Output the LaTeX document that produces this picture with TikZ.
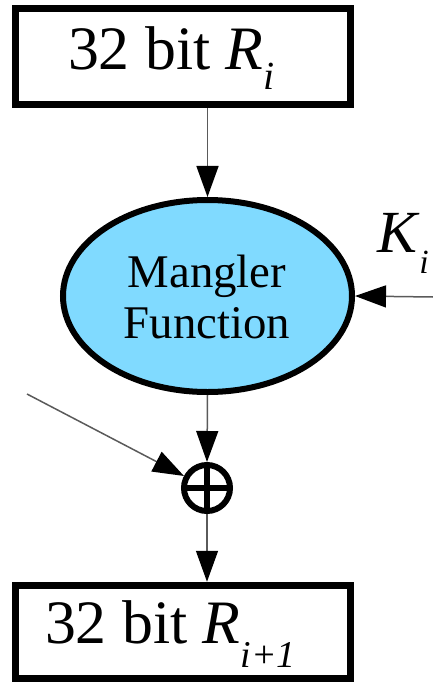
\documentclass[tikz,border=0pt]{standalone}
\usepackage{fontspec}
\setmainfont{Liberation Serif}
\usetikzlibrary{arrows.meta,shapes.geometric}
\definecolor{mangblue}{RGB}{128,218,255}
\definecolor{linegray}{RGB}{90,90,90}
\begin{document}
\begin{tikzpicture}[x=1bp,y=-1bp,
  regbox/.style={draw=black,rectangle,line width=7bp,minimum width=335bp,inner sep=0pt},
  txt/.style={inner sep=0pt,outer sep=0pt},
  flow/.style={draw=linegray,line width=1.5bp,-{Triangle[length=31bp,width=22bp,fill=black,color=black]}}]
\useasboundingbox (0,0) rectangle (433,682);
% boxes
\node[regbox,minimum height=96bp] (top) at (183,56.5) {};
\node[regbox,minimum height=93.5bp] (bot) at (183,632) {};
\node[txt,anchor=base west] (toptxt) at (68,70) {\fontsize{62}{62}\selectfont 32 bit \textit{R}\raisebox{-20bp}{\fontsize{40}{40}\selectfont\textit{i}}};
\node[txt,anchor=base west] (bottxt) at (45,643) {\fontsize{62}{62}\selectfont 32 bit \textit{R}\raisebox{-24bp}{\fontsize{38}{38}\selectfont\textit{i+1}}};
% mangler
\node[ellipse,draw=black,fill=mangblue,line width=6bp,minimum width=289bp,minimum height=192bp,inner sep=0pt] (ell) at (207.5,296) {};
\node[txt,anchor=base] (m1) at (207,287) {\fontsize{47}{47}\selectfont Mangler};
\node[txt,anchor=base] (m2) at (207,338) {\fontsize{47}{47}\selectfont Function};
% key
\node[txt,anchor=base west] (key) at (377,252) {\fontsize{60}{60}\selectfont\textit{K}\raisebox{-21bp}{\fontsize{34}{34}\selectfont\textit{i}}};
% xor
\node[circle,draw=black,line width=6bp,minimum size=46bp,inner sep=0pt] (xor) at (207,488) {};
\draw[line width=6bp] (xor.center) ++(0,-23) -- ++(0,46);
\draw[line width=6bp] (xor.center) ++(-23,0) -- ++(46,0);
% connectors
\coordinate (kin) at (433,297);
\coordinate (lin) at (27,394);
\draw[flow] (ell.north |- top.south) -- (ell.north);
\draw[flow] (kin) -- (ell.east);
\draw[flow] (ell.south) -- (xor.north);
\draw[flow] (lin) -- (xor);
\draw[flow] (xor.south) -- (xor.south |- bot.north);
\end{tikzpicture}
\end{document}
